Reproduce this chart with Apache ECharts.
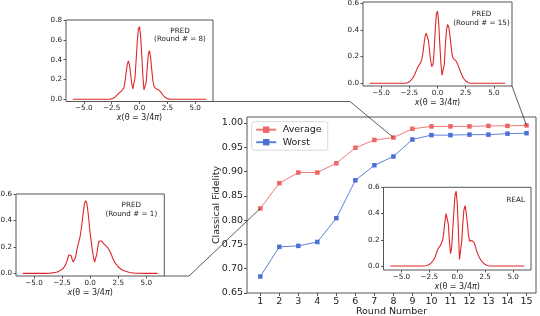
<!DOCTYPE html>
<html>
<head>
<meta charset="utf-8">
<script src="https://cdn.jsdelivr.net/npm/echarts@6/dist/echarts.min.js"></script>
<style>html,body{margin:0;padding:0;background:#fff}#c{width:540px;height:316px}</style>
</head>
<body>
<div id="c"></div>
<script>
// ---------- data ----------
const rounds = [1,2,3,4,5,6,7,8,9,10,11,12,13,14,15];
const average = [0.824,0.876,0.898,0.898,0.917,0.949,0.965,0.970,0.988,0.993,0.993,0.993,0.994,0.994,0.995];
const worst   = [0.684,0.745,0.747,0.755,0.804,0.882,0.913,0.931,0.966,0.975,0.975,0.976,0.976,0.978,0.979];
const mainYTicks = [0.65,0.70,0.75,0.80,0.85,0.90,0.95,1.00];
const insetXTicks = [-5,-2.5,0,2.5,5];

const waveX = [-6,-5,-4,-3.5,
 -3.0,-2.9,-2.8,-2.7,-2.6,-2.5,-2.4,-2.3,-2.2,-2.1,
 -2.0,-1.9,-1.8,-1.7,-1.6,-1.5,-1.4,-1.3,-1.2,-1.1,
 -1.0,-0.9,-0.8,-0.7,-0.6,-0.5,-0.4,-0.3,-0.2,-0.1,
 0.0,0.1,0.2,0.3,0.4,0.5,0.6,0.7,0.8,0.9,
 1.0,1.1,1.2,1.3,1.4,1.5,1.6,1.7,1.8,1.9,
 2.0,2.1,2.2,2.3,2.4,2.5,2.6,2.7,2.8,2.9,
 3.0,3.5,4,5,6];

const predRound8 = [0,0,0,0,
 0,0,0,0.001,0.002,0.004,0.008,0.014,0.022,0.032,
 0.044,0.056,0.067,0.077,0.085,0.094,0.115,0.18,0.27,0.35,
 0.387,0.35,0.26,0.16,0.105,0.11,0.22,0.40,0.58,0.71,
 0.735,0.64,0.45,0.24,0.095,0.08,0.17,0.33,0.46,0.49,
 0.42,0.30,0.19,0.13,0.11,0.105,0.10,0.097,0.09,0.075,
 0.058,0.043,0.03,0.02,0.012,0.007,0.004,0.002,0.001,0,
 0,0,0,0,0];

const predRound15 = [0,0,0,0,
 0,0,0.001,0.003,0.006,0.011,0.018,0.027,0.038,0.052,
 0.07,0.09,0.11,0.127,0.14,0.155,0.175,0.22,0.29,0.35,
 0.375,0.37,0.32,0.24,0.165,0.125,0.14,0.24,0.40,0.52,
 0.54,0.46,0.30,0.15,0.06,0.05,0.14,0.29,0.40,0.44,
 0.42,0.36,0.28,0.21,0.185,0.178,0.172,0.162,0.14,0.118,
 0.095,0.073,0.054,0.038,0.026,0.017,0.01,0.006,0.003,0.001,
 0,0,0,0,0];

const predRound1 = [0,0,0,0.002,
 0.008,0.011,0.015,0.02,0.025,0.03,0.037,0.048,0.064,0.085,
 0.11,0.14,0.155,0.135,0.105,0.085,0.082,0.12,0.17,0.21,
 0.24,0.275,0.33,0.40,0.47,0.53,0.55,0.53,0.47,0.39,
 0.30,0.24,0.17,0.12,0.085,0.075,0.15,0.21,0.245,0.257,
 0.245,0.232,0.225,0.218,0.21,0.2,0.19,0.175,0.16,0.14,
 0.115,0.097,0.083,0.07,0.06,0.05,0.042,0.035,0.029,0.023,
 0.018,0.006,0.001,0,0];

const realDist = [0,0,0,0,
 0,0.001,0.003,0.005,0.008,0.012,0.018,0.026,0.036,0.048,
 0.064,0.09,0.115,0.135,0.148,0.157,0.168,0.2,0.26,0.34,
 0.40,0.40,0.32,0.19,0.095,0.14,0.28,0.42,0.54,0.57,
 0.48,0.28,0.05,0.045,0.19,0.33,0.43,0.46,0.41,0.33,
 0.24,0.19,0.185,0.195,0.195,0.18,0.155,0.125,0.1,0.08,
 0.062,0.047,0.035,0.025,0.018,0.012,0.008,0.005,0.003,0.001,
 0,0,0,0,0];

// ---------- styles ----------
const FONT = 'DejaVu Sans';
const EDGE = '#555';
const TXT = '#222';
const RED = '#e0262a';
const pairs = (xs, ys) => xs.map((x, i) => [x, ys[i]]);
const fmtX = v => (v < 0 ? '\u2212' : '') + Math.abs(v).toFixed(1);

// layout of the grids (pixel rectangles)
const mainBox = {left:247, top:117, width:289, height:176};
const insets = [
  {box:{left:66,  top:20,  width:147,   height:81.5}, data:predRound8,  yMin:-0.022, yMax:0.8,  yTicks:[0,0.2,0.4,0.6,0.8]},
  {box:{left:363, top:2,   width:149,   height:84},   data:predRound15, yMin:-0.02,  yMax:0.608, yTicks:[0,0.2,0.4,0.6]},
  {box:{left:16,  top:194, width:148.3, height:82},   data:predRound1,  yMin:-0.02,  yMax:0.6,  yTicks:[0,0.2,0.4,0.6]},
  {box:{left:383.5,top:187.3,width:147.5,height:82.7},data:realDist,    yMin:-0.03,  yMax:0.6,  yTicks:[0,0.2,0.4,0.6]}
];

const grids = [Object.assign({show:true, borderColor:EDGE, borderWidth:1, backgroundColor:'transparent',
  containLabel:false, outerBoundsMode:'none'}, mainBox)];
const xAxes = [{
  type:'value', gridIndex:0, min:0.3, max:15.5,
  splitLine:{show:false}, axisLine:{show:false, onZero:false},
  axisTick:{show:true, customValues:rounds, length:3, lineStyle:{color:EDGE}},
  axisLabel:{customValues:rounds, color:TXT, fontFamily:FONT, fontSize:9.5, margin:4},
  name:'Round Number', nameLocation:'middle', nameGap:14, nameMoveOverlap:false,
  nameTextStyle:{color:TXT, fontFamily:FONT, fontSize:9.5}
}];
const yAxes = [{
  type:'value', gridIndex:0, min:0.65, max:1.0123,
  splitLine:{show:false}, axisLine:{show:false, onZero:false},
  axisTick:{show:true, customValues:mainYTicks, length:3, lineStyle:{color:EDGE}},
  axisLabel:{customValues:mainYTicks, color:TXT, fontFamily:FONT, fontSize:9.5, margin:4,
             formatter:v => v.toFixed(2)},
  name:'Classical Fidelity', nameLocation:'middle', nameGap:25.5, nameMoveOverlap:false,
  nameTextStyle:{color:TXT, fontFamily:FONT, fontSize:9.5}
}];
const series = [
  {name:'Average', type:'line', xAxisIndex:0, yAxisIndex:0, data:pairs(rounds, average),
   symbol:'rect', symbolSize:4.5, color:'#ef6464',
   lineStyle:{color:'#f17a7a', width:1}, itemStyle:{color:'#ef6464'}, z:5},
  {name:'Worst', type:'line', xAxisIndex:0, yAxisIndex:0, data:pairs(rounds, worst),
   symbol:'rect', symbolSize:4.5, color:'#4c70d6',
   lineStyle:{color:'#5f80dc', width:1}, itemStyle:{color:'#4c70d6'}, z:5}
];

insets.forEach((ins, k) => {
  const gi = k + 1;
  grids.push(Object.assign({show:true, borderColor:EDGE, borderWidth:1, backgroundColor:'#fff', z:3,
    containLabel:false, outerBoundsMode:'none'}, ins.box));
  xAxes.push({
    type:'value', gridIndex:gi, min:-6.6, max:6.6,
    splitLine:{show:false}, axisLine:{show:false, onZero:false},
    axisTick:{show:true, customValues:insetXTicks, length:2.5, lineStyle:{color:EDGE}},
    axisLabel:{customValues:insetXTicks, color:TXT, fontFamily:FONT, fontSize:7.2, margin:3.5, formatter:fmtX},
    name:'{i|x}(\u03B8 = 3/4{i|\u03C0})', nameLocation:'middle', nameGap:12.5, nameMoveOverlap:false,
    nameTextStyle:{color:TXT, fontFamily:FONT, fontSize:8,
      rich:{i:{fontStyle:'italic', fontFamily:FONT, fontSize:8, color:TXT}}},
    z:4
  });
  yAxes.push({
    type:'value', gridIndex:gi, min:ins.yMin, max:ins.yMax,
    splitLine:{show:false}, axisLine:{show:false, onZero:false},
    axisTick:{show:true, customValues:ins.yTicks, length:2.5, lineStyle:{color:EDGE}},
    axisLabel:{customValues:ins.yTicks, color:TXT, fontFamily:FONT, fontSize:7.2, margin:4,
               formatter:v => v.toFixed(1)},
    z:4
  });
  series.push({type:'line', xAxisIndex:gi, yAxisIndex:gi, data:pairs(waveX, ins.data),
    showSymbol:false, symbol:'none', lineStyle:{color:RED, width:1.1}, z:6, silent:true});
});

const chart = echarts.init(document.getElementById('c'), null, {renderer:'canvas'});
chart.setOption({
  animation:false,
  backgroundColor:'#fff',
  grid:grids, xAxis:xAxes, yAxis:yAxes, series:series,
  legend:{
    data:['Average','Worst'], orient:'vertical', left:251.7, top:121.7,
    itemWidth:20, itemHeight:8, itemGap:2.5,
    padding:[3,6,3,3.5],
    borderColor:'#cfcfcf', borderWidth:0.8, borderRadius:2.5,
    backgroundColor:'rgba(255,255,255,0.8)',
    textStyle:{color:TXT, fontFamily:FONT, fontSize:9.5, padding:[0,0,0,1.5]}
  }
});

// annotations (labels and connector lines)
const p = (si, x, y) => chart.convertToPixel({seriesIndex:si}, [x, y]);
const pt1 = p(0, rounds[0], average[0]);
const pt8 = p(0, rounds[7], average[7]);
const pt15 = p(0, rounds[14], average[14]);
const b0 = insets[0].box, b1 = insets[1].box, b2 = insets[2].box;
const bx = b => b.left + b.width, by = b => b.top + b.height;
const lineStyle = {stroke:'#333', lineWidth:0.8, fill:null};
const txt = (s, x, y) => ({type:'text', z:20, style:{text:s, x:x, y:y, align:'center', verticalAlign:'middle',
  font:'7.2px "DejaVu Sans"', fill:TXT}});

chart.setOption({graphic:[
  {type:'polyline', z:15, shape:{points:[[bx(b0), by(b0)], [350, by(b0)], pt8]}, style:lineStyle},
  {type:'polyline', z:15, shape:{points:[[bx(b1), by(b1)], pt15]}, style:lineStyle},
  {type:'polyline', z:15, shape:{points:[[bx(b2), by(b2)], [189, by(b2)], pt1]}, style:lineStyle},
  txt('PRED', 180, 30.7), txt('(Round # = 8)', 180, 39.2),
  txt('PRED', 481.5, 14.3), txt('(Round # = 15)', 481.5, 23.3),
  txt('PRED', 131.3, 205), txt('(Round # = 1)', 131.3, 213.7),
  txt('REAL', 515.8, 200)
]});
</script>
</body>
</html>
